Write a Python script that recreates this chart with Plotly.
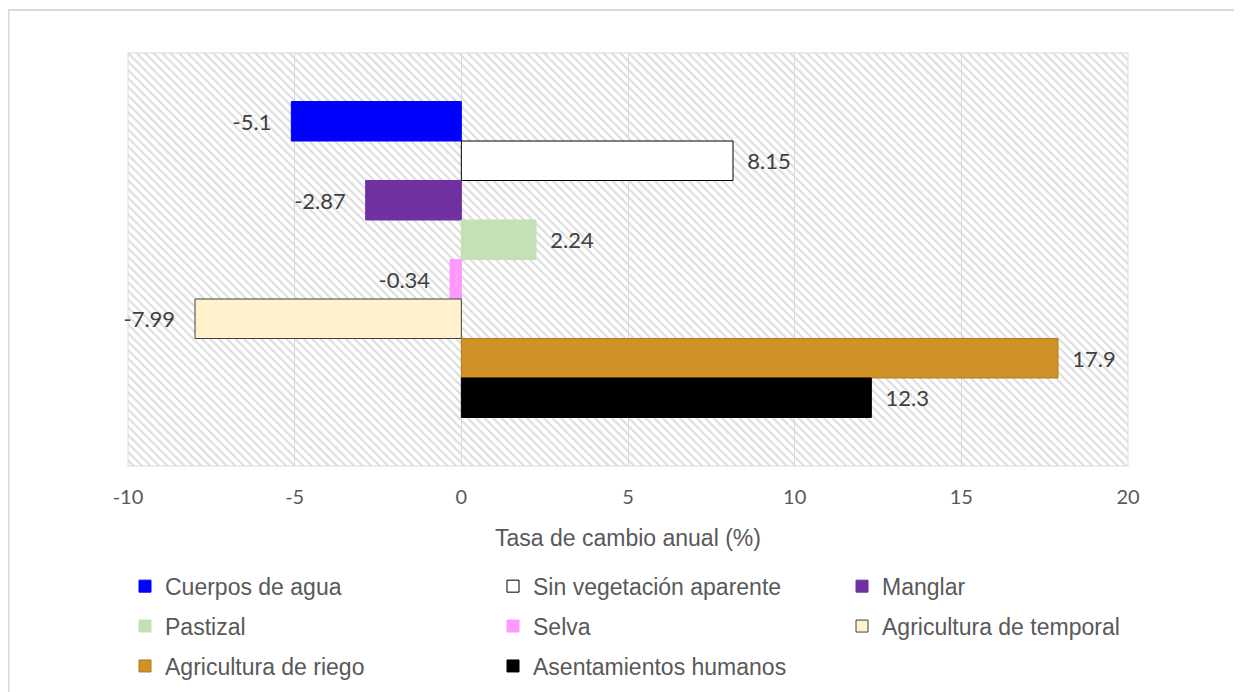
import plotly.graph_objects as go

categories = ['Cuerpos de agua', 'Sin vegetación aparente', 'Manglar', 'Pastizal',
              'Selva', 'Agricultura de temporal', 'Agricultura de riego', 'Asentamientos humanos']
values = [-5.1, 8.15, -2.87, 2.24, -0.34, -7.99, 17.9, 12.3]
labels = ['-5.1', '8.15', '-2.87', '2.24', '-0.34', '-7.99', '17.9', '12.3']
fill_colors = ['#0000FF', '#FFFFFF', '#7030A0', '#C5E0B4', '#FF99FF', '#FFF2CC', '#D09127', '#000000']
line_colors = ['#0000FF', '#000000', '#7030A0', '#C5E0B4', '#FF99FF', '#404040', '#B07A1E', '#000000']
legend_slot = ['legend', 'legend2', 'legend3', 'legend', 'legend2', 'legend3', 'legend', 'legend2']
x_range = [-10, 20]
x_ticks = [-10, -5, 0, 5, 10, 15, 20]
x_ticktext = ['-10', '-5', '0', '5', '10', '15', '20']

fig = go.Figure()

# hatched background of the plot area
fig.add_trace(go.Bar(x=[x_range[1] - x_range[0]], base=[x_range[0]], y=[0], width=[1],
                     orientation='h', xaxis='x', yaxis='y',
                     marker=dict(color='#dcdcdc', line_width=0,
                                 pattern=dict(shape='\\', size=6, solidity=0.35, fillmode='replace')),
                     showlegend=False, hoverinfo='skip'))

nbsp = '\u00a0'
for i, (name, v, lab) in enumerate(zip(categories, values, labels)):
    txt = lab + nbsp * 3 if v < 0 else nbsp * 2 + lab
    fig.add_trace(go.Bar(x=[v], y=['A'], orientation='h', name=name,
                         xaxis='x2', yaxis='y2',
                         marker=dict(color=fill_colors[i], line=dict(color=line_colors[i], width=1)),
                         text=[txt], textposition='outside', constraintext='none',
                         textfont=dict(family='Lato', size=22, color='#404040'),
                         cliponaxis=False, legend=legend_slot[i], legendgroup=name))

legend_style = dict(orientation='v', xanchor='left', yanchor='top', y=-0.239,
                    bgcolor='rgba(0,0,0,0)', traceorder='grouped', tracegroupgap=7,
                    font=dict(family='Liberation Sans', size=23, color='#595959'))

fig.update_layout(width=1242, height=692,
                  margin=dict(l=120, r=122, t=45, b=234, autoexpand=False),
                  paper_bgcolor='white', plot_bgcolor='white',
                  barmode='group', bargap=0.235, bargroupgap=0,
                  hovermode=False,
                  xaxis=dict(range=x_range, tickvals=x_ticks, ticktext=x_ticktext,
                             showgrid=True, gridcolor='#d9d9d9',
                             gridwidth=1, zeroline=False, showline=False,
                             ticks='outside', ticklen=13, tickcolor='rgba(0,0,0,0)',
                             tickfont=dict(family='Lato', size=20, color='#595959')),
                  yaxis=dict(range=[-0.5, 0.5], showgrid=False, zeroline=False, showticklabels=False,
                             showline=False),
                  xaxis2=dict(range=x_range, overlaying='x', visible=False),
                  yaxis2=dict(range=[0.5, -0.5], overlaying='y', type='category', visible=False),
                  legend=dict(legend_style, x=-0.003),
                  legend2=dict(legend_style, x=0.365),
                  legend3=dict(legend_style, x=0.714),
                  annotations=[dict(text='Tasa de cambio anual (%)', xref='paper', yref='paper',
                                    x=0.5, y=-0.174, xanchor='center', yanchor='middle',
                                    showarrow=False,
                                    font=dict(family='Liberation Sans', size=23, color='#595959'))],
                  shapes=[dict(type='rect', xref='paper', yref='paper', x0=0, x1=1, y0=0, y1=1,
                               layer='below', line=dict(color='#d9d9d9', width=1)),
                          dict(type='line', xref='paper', yref='paper', x0=-0.1195, x1=-0.1195,
                               y0=-0.6, y1=1.104, line=dict(color='#d9d9d9', width=2)),
                          dict(type='line', xref='paper', yref='paper', x0=-0.1205, x1=1.13,
                               y0=1.104, y1=1.104, line=dict(color='#d9d9d9', width=2))])

fig.write_html("out.html")
